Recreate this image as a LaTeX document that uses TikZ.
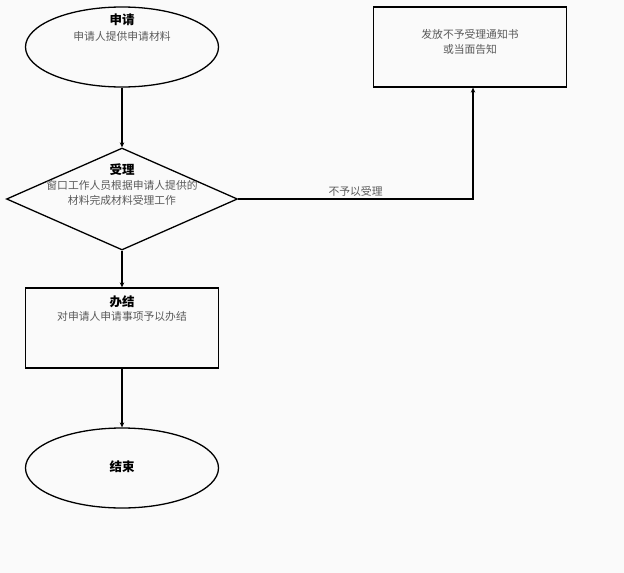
\documentclass[tikz,border=0pt]{standalone}
\usepackage{fontspec}
\setmainfont{Noto Sans CJK SC}
\usetikzlibrary{shapes, shapes.geometric, arrows, arrows.meta}
\definecolor{bggray}{RGB}{250,250,250}
\definecolor{subgray}{RGB}{90,90,90}
\tikzset{
  stepell/.style={ellipse, draw, line width=1.3pt, minimum width=193pt, minimum height=80pt},
  stepbox/.style={rectangle, draw, line width=1.3pt, minimum width=193pt, minimum height=80pt},
  stepdia/.style={diamond, draw, line width=1.3pt, minimum width=231pt, minimum height=102pt},
  head/.style={font=\fontsize{12.5}{14}\selectfont\bfseries},
  sub/.style={font=\fontsize{10.8}{14.5}\selectfont, text=subgray, align=center, inner sep=0pt},
  flow/.style={line width=1.3pt, -{Stealth[length=5pt,width=4.5pt]}}
}
\begin{document}
\begin{tikzpicture}[x=1pt, y=-1pt]
\fill[bggray] (0,0) rectangle (624,573);
\useasboundingbox (0,0) rectangle (624,573);
\node[stepell] (SQ) at (122, 47) {};
\node[head] at (122, 20) {申请};
\node[sub] at (122, 36) {申请人提供申请材料};
\node[stepdia] (SL) at (122, 199) {};
\node[head] at (122, 170) {受理};
\node[sub] at (122, 193) {窗口工作人员根据申请人提供的\\材料完成材料受理工作};
\node[stepbox] (BJ) at (122, 328) {};
\node[head] at (122, 302) {办结};
\node[sub] at (122, 316) {对申请人申请事项予以办结};
\node[stepell] (JS) at (122, 468) {};
\node[head] at (122, 467) {结束};
\node[stepbox] (BY) at (470, 47) {};
\node[sub] at (470, 42) {发放不予受理通知书\\或当面告知};
\draw[flow] (SQ) -- (SL);
\draw[flow] (SL) -- (BJ);
\draw[flow] (BJ) -- (JS);
\draw[flow] (SL.east) -| node[pos=0.25, above, sub, yshift=2pt] {不予以受理} ([xshift=3pt]BY.south);
\end{tikzpicture}
\end{document}
